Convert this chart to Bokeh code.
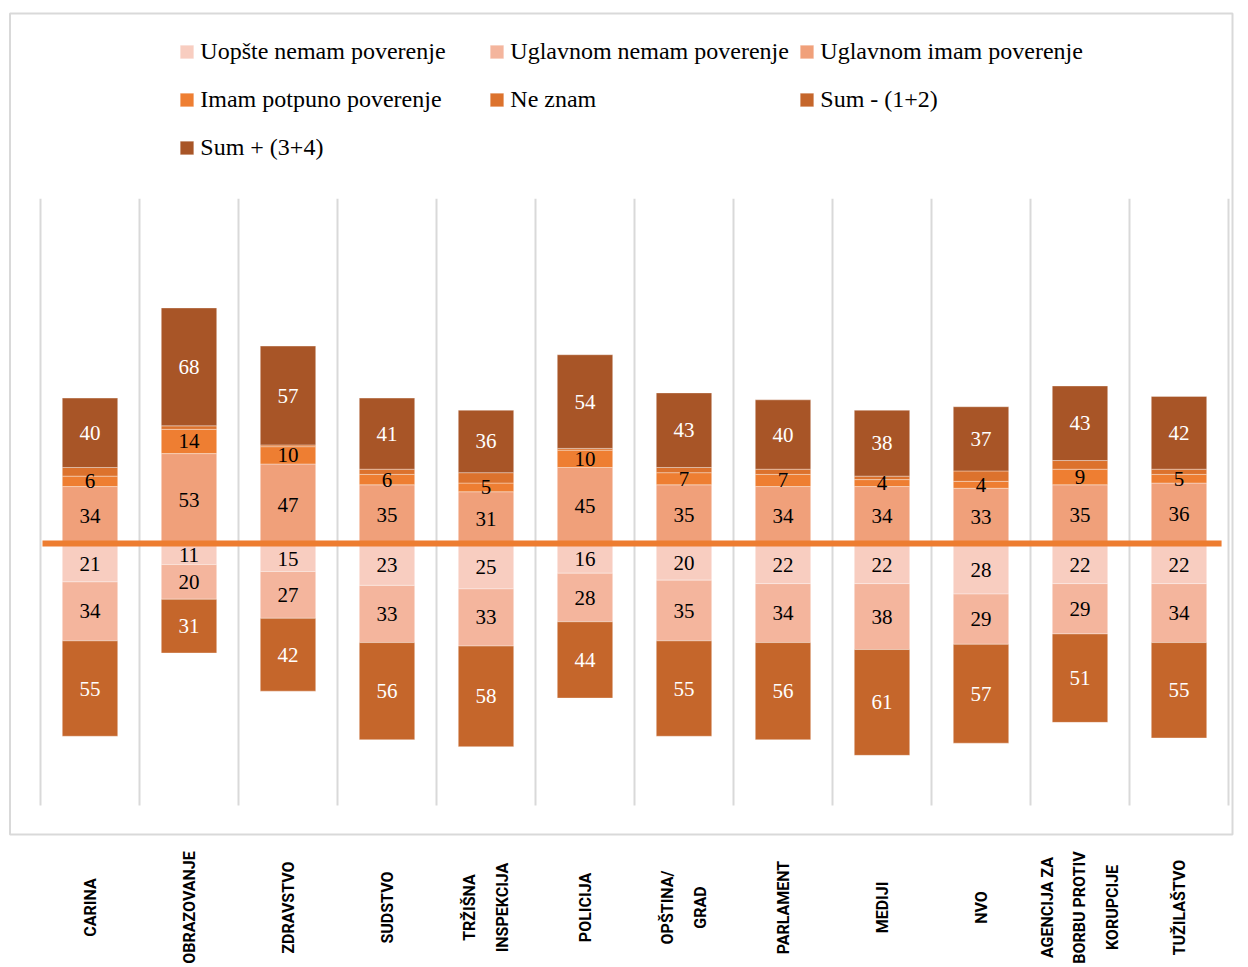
import numpy as np
from bokeh.plotting import figure
from bokeh.models import ColumnDataSource, Range1d, Legend, LegendItem
from bokeh.core.properties import value
from bokeh.embed import file_html
from bokeh.resources import INLINE

# ---------------- data ----------------
categories = ["CARINA", "OBRAZOVANJE", "ZDRAVSTVO", "SUDSTVO", "TRŽIŠNA\nINSPEKCIJA",
              "POLICIJA", "OPŠTINA/\nGRAD", "PARLAMENT", "MEDIJI", "NVO",
              "AGENCIJA ZA\nBORBU PROTIV\nKORUPCIJE", "TUŽILAŠTVO"]
uopste_nemam = [21, 11, 15, 23, 25, 16, 20, 22, 22, 28, 22, 22]
uglavnom_nemam = [34, 20, 27, 33, 33, 28, 35, 34, 38, 29, 29, 34]
uglavnom_imam = [34, 53, 47, 35, 31, 45, 35, 34, 34, 33, 35, 36]
potpuno = [6, 14, 10, 6, 5, 10, 7, 7, 4, 4, 9, 5]
ne_znam = [5, 2, 1, 3, 6, 1, 3, 3, 2, 6, 5, 3]
sum_minus = [55, 31, 42, 56, 58, 44, 55, 56, 61, 57, 51, 55]
sum_plus = [40, 68, 57, 41, 36, 54, 43, 40, 38, 37, 43, 42]

series_names = ["Uopšte nemam poverenje", "Uglavnom nemam poverenje", "Uglavnom imam poverenje",
                "Imam potpuno poverenje", "Ne znam", "Sum - (1+2)", "Sum + (3+4)"]
colors = {
    "Uopšte nemam poverenje": "#F8CDC0",
    "Uglavnom nemam poverenje": "#F4B59D",
    "Uglavnom imam poverenje": "#F0A07A",
    "Imam potpuno poverenje": "#EE7E32",
    "Ne znam": "#DC722D",
    "Sum - (1+2)": "#C5662B",
    "Sum + (3+4)": "#A85527",
}
Y_MIN, Y_MAX = -150, 200

# ---------------- geometry (page pixel -> data) ----------------
W, H = 1240, 966
OFF = 0
PX_PER_X = 99.0
X0_IMG = 40.0
PX_PER_Y = 1.734
Y0_IMG = 545.0


def dx(img_x):
    return (img_x - X0_IMG) / PX_PER_X


def dy(img_y):
    return (Y0_IMG - img_y) / PX_PER_Y


p = figure(width=W, height=H, x_range=Range1d(dx(OFF), dx(OFF + W)),
           y_range=Range1d(dy(OFF + H), dy(OFF)), min_border=0,
           x_axis_type=None, y_axis_type=None, toolbar_location=None,
           output_backend="svg")
p.grid.visible = False
p.outline_line_color = None
p.background_fill_color = "white"

# outer chart border
p.quad(left=dx(9.5), right=dx(1232), top=dy(13), bottom=dy(834),
       fill_color=None, line_color="#D9D9D9", line_width=2)

# vertical category separators
n = len(categories)
edges = np.arange(n + 1)
p.segment(x0=edges, y0=Y_MIN, x1=edges, y1=Y_MAX, line_color="#D9D9D9", line_width=2)

xc = np.arange(n) + 0.5
BAR_W = 0.56

pos_series = [("Uglavnom imam poverenje", uglavnom_imam), ("Imam potpuno poverenje", potpuno),
              ("Ne znam", ne_znam), ("Sum + (3+4)", sum_plus)]
neg_series = [("Uopšte nemam poverenje", uopste_nemam), ("Uglavnom nemam poverenje", uglavnom_nemam),
              ("Sum - (1+2)", sum_minus)]

renderers = {}
label_x, label_y, label_t, label_c = [], [], [], []

base = np.zeros(n)
for name, vals in pos_series:
    v = np.array(vals, dtype=float)
    src = ColumnDataSource(dict(x=xc, bottom=base, top=base + v))
    renderers[name] = p.vbar(x="x", width=BAR_W, bottom="bottom", top="top", source=src,
                             fill_color=colors[name], line_color="white", line_alpha=0.35,
                             line_width=1)
    if name != "Ne znam":
        label_x += list(xc)
        label_y += list(base + v / 2)
        label_t += [str(int(a)) for a in v]
        label_c += ["white" if name.startswith("Sum") else "black"] * n
    base = base + v

base = np.zeros(n)
for name, vals in neg_series:
    v = np.array(vals, dtype=float)
    src = ColumnDataSource(dict(x=xc, bottom=base - v, top=base))
    renderers[name] = p.vbar(x="x", width=BAR_W, bottom="bottom", top="top", source=src,
                             fill_color=colors[name], line_color="white", line_alpha=0.35,
                             line_width=1)
    label_x += list(xc)
    label_y += list(base - v / 2)
    label_t += [str(int(a)) for a in v]
    label_c += ["white" if name.startswith("Sum") else "black"] * n
    base = base - v

# zero reference line
p.segment(x0=[0.02], y0=[1.2], x1=[11.93], y1=[1.2], line_color="#ED7D31", line_width=6)

# value labels
lsrc = ColumnDataSource(dict(x=label_x, y=label_y, t=label_t, c=label_c))
p.text(x="x", y="y", text="t", text_color="c", source=lsrc, text_align="center",
       text_baseline="middle", text_font=value("Liberation Serif"), text_font_size="21px")

# category labels
p.text(x=xc, y=[dy(907)] * n, text=categories, angle=np.pi / 2, text_align="center",
       text_baseline="middle", text_font=value("Roboto"),
       text_font_style="bold", text_font_size="16px", text_color="black",
       text_line_height=1.7)

# legends: three columns
columns = [["Uopšte nemam poverenje", "Imam potpuno poverenje", "Sum + (3+4)"],
           ["Uglavnom nemam poverenje", "Ne znam"],
           ["Uglavnom imam poverenje", "Sum - (1+2)"]]
col_x_img = [180, 490, 800]
ITEM_H = 30
SPACING = 18
GLYPH = 17
first_center_img = 51
for cx, names in zip(col_x_img, columns):
    items = [LegendItem(label=nm, renderers=[renderers[nm]]) for nm in names]
    h = len(names) * ITEM_H + (len(names) - 1) * SPACING
    top_img = first_center_img - ITEM_H / 2
    leg = Legend(items=items, location=(cx - 1.7 - OFF, H - (top_img - OFF) - h),
                 orientation="vertical", glyph_width=GLYPH, glyph_height=GLYPH,
                 label_height=ITEM_H, label_standoff=5, spacing=SPACING,
                 padding=0, margin=0, border_line_alpha=0, background_fill_alpha=0,
                 label_text_font="Liberation Serif", label_text_font_size="24px",
                 label_text_color="black")
    p.add_layout(leg)

open("out.html", "w").write(file_html(p, INLINE))
